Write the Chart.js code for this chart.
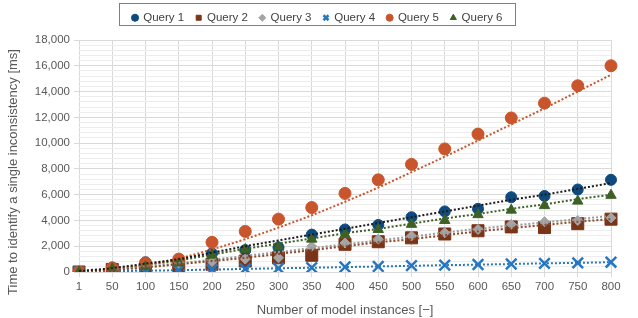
<!DOCTYPE html>
<html><head><meta charset="utf-8">
<script src="https://cdn.jsdelivr.net/npm/chart.js@4/dist/chart.umd.min.js"></script>
<style>html,body{margin:0;padding:0;background:#fff}</style>
</head><body>
<canvas id="c" width="638" height="318"></canvas>
<script>
const categories = ['1','50','100','150','200','250','300','350','400','450','500','550','600','650','700','750','800'];
const query1 = [0, 350, 750, 950, 1450, 1700, 1900, 2900, 3300, 3650, 4250, 4700, 4900, 5800, 5900, 6400, 7150];
const query2 = [0, 200, 250, 500, 600, 850, 1100, 1300, 2150, 2350, 2650, 2950, 3200, 3500, 3450, 3750, 4100];
const query3 = [0, 150, 300, 450, 800, 1000, 1100, 2000, 2250, 2550, 2800, 3050, 3300, 3700, 3900, 4000, 4200];
const query4 = [0, 40, 90, 140, 190, 240, 290, 340, 390, 430, 490, 530, 580, 620, 670, 710, 760];
const query5 = [0, 300, 700, 1000, 2300, 3150, 4100, 5000, 6100, 7150, 8350, 9550, 10700, 11950, 13100, 14450, 16000];
const query6 = [0, 250, 400, 700, 1300, 1750, 1950, 2550, 2900, 3300, 3700, 4000, 4450, 4800, 5150, 5500, 5950];
// dotted trend lines
const trend1 = [80, 300, 650, 1000, 1500, 2000, 2450, 2900, 3350, 3800, 4250, 4700, 5150, 5600, 6000, 6450, 6900];
const trend2 = [0, 150, 350, 600, 850, 1100, 1400, 1700, 2000, 2300, 2550, 2850, 3150, 3400, 3650, 3900, 4100];
const trend3 = [0, 180, 400, 680, 950, 1250, 1550, 1850, 2150, 2450, 2750, 3050, 3350, 3600, 3850, 4100, 4350];
const trend4 = [20, 60, 100, 140, 190, 240, 290, 330, 380, 430, 480, 530, 570, 620, 670, 710, 760];
const trend5 = [0, 200, 550, 1050, 1750, 2550, 3450, 4400, 5450, 6550, 7750, 8950, 10200, 11450, 12700, 14000, 15300];
const trend6 = [0, 250, 550, 900, 1350, 1800, 2200, 2600, 3000, 3350, 3750, 4150, 4500, 4900, 5250, 5650, 6000];
const seriesNames = ['Query 1','Query 2','Query 3','Query 4','Query 5','Query 6'];
const yTickValues = [0, 2000, 4000, 6000, 8000, 10000, 12000, 14000, 16000, 18000];
const xTitle = 'Number of model instances [−]';
const yTitle = 'Time to identify a single inconsistency [ms]';

const FONT = 'Liberation Sans, Arial, sans-serif';
const TXT = '#595959';

function marker(label, data, color, style, radius, order, bw) {
  return { label, data, showLine: false, pointStyle: style, pointRadius: radius, pointHoverRadius: radius,
    backgroundColor: color, borderColor: color, pointBorderWidth: bw, borderWidth: bw, order };
}
function trend(data, color) {
  return { label: '_trend', data, showLine: true, pointRadius: 0, borderColor: color, borderWidth: 2,
    borderDash: [2, 2], fill: false, cubicInterpolationMode: 'monotone', order: -1 };
}

function legendExtent(lg) {
  let l = Infinity, r = -Infinity;
  lg.legendHitBoxes.forEach(h => { l = Math.min(l, h.left); r = Math.max(r, h.left + h.width); });
  return [l, r];
}

const customLayout = {
  id: 'customLayout',
  beforeLayout(chart) {
    const lg = chart.legend;
    if (lg && !lg._wrapped) {
      const f = lg.fit;
      lg.fit = function () { f.call(this); this.height = 40; };
      lg._wrapped = true;
    }
  },
  afterUpdate(chart) {
    const lg = chart.legend;
    if (!lg || !lg.legendHitBoxes || !lg.legendHitBoxes.length) return;
    const [l, r] = legendExtent(lg);
    const centre = (l - 14 + r + 12) / 2;
    const shift = Math.round(316.5 - centre);
    lg.left += shift; lg.right += shift;
    lg.adjustHitBoxes();
  },
  afterDraw(chart) {
    const ctx = chart.ctx;
    const lg = chart.legend;
    if (lg && lg.legendHitBoxes && lg.legendHitBoxes.length) {
      const [l, r] = legendExtent(lg);
      ctx.save();
      ctx.strokeStyle = '#7f7f7f';
      ctx.lineWidth = 1;
      ctx.strokeRect(Math.round(l - 14) + 0.5, 3.5, Math.round(r - l + 26), 22);
      ctx.restore();
    }
    // y axis title, centred on the whole chart height as in the reference
    ctx.save();
    ctx.translate(13, 172);
    ctx.rotate(-Math.PI / 2);
    ctx.fillStyle = TXT;
    ctx.font = '13px ' + FONT;
    ctx.textAlign = 'center';
    ctx.textBaseline = 'middle';
    ctx.fillText(yTitle, 0, 0);
    ctx.restore();
  }
};

new Chart(document.getElementById('c'), {
  type: 'line',
  data: {
    labels: categories,
    datasets: [
      marker(seriesNames[0], query1, '#0E4A7E', 'circle', 5.5, 5, 1),
      marker(seriesNames[1], query2, '#7A3417', 'rect', 8.5, 4, 1),
      marker(seriesNames[2], query3, '#A5A5A5', 'rectRot', 5, 3, 1),
      marker(seriesNames[3], query4, '#2677C0', 'crossRot', 7.5, 2, 2.5),
      marker(seriesNames[4], query5, '#C8552B', 'circle', 6, 1, 1),
      marker(seriesNames[5], query6, '#3D6125', 'triangle', 6, 0, 1),
      trend(trend1, '#1a1a1a'),
      trend(trend2, '#8B4A2B'),
      trend(trend3, '#9a9a9a'),
      trend(trend4, '#2677C0'),
      trend(trend5, '#C8552B'),
      trend(trend6, '#3D6125')
    ]
  },
  options: {
    responsive: false,
    animation: false,
    devicePixelRatio: 1,
    layout: { padding: { left: 0, right: 27, top: 0, bottom: 0 } },
    plugins: {
      tooltip: { enabled: false },
      legend: {
        position: 'top',
        labels: {
          usePointStyle: true, boxWidth: 5, boxHeight: 5, padding: 12,
          color: '#404040', font: { family: FONT, size: 11.5 },
          filter: (item) => item.text !== '_trend',
          sort: (a, b) => a.datasetIndex - b.datasetIndex
        }
      }
    },
    scales: {
      x: {
        type: 'category',
        offset: false,
        grid: { color: '#D9D9D9', lineWidth: 1, tickLength: 5, tickColor: '#D9D9D9' },
        border: { display: false },
        ticks: { color: TXT, font: { family: FONT, size: 11.5 }, maxRotation: 0, autoSkip: false, padding: 3 },
        title: { display: true, text: xTitle, color: TXT, font: { family: FONT, size: 13 }, padding: { top: 3, bottom: 0 } },
        afterFit: s => { s.height = 46; }
      },
      y: {
        min: 0, max: 18000,
        grid: {
          color: c => (Math.round(c.tick.value) % 2000 === 0 ? '#D9D9D9' : '#EDEDED'),
          tickColor: c => (Math.round(c.tick.value) % 2000 === 0 ? '#D9D9D9' : 'rgba(0,0,0,0)'),
          tickLength: 5
        },
        border: { display: false },
        ticks: {
          stepSize: 400, autoSkip: false, color: TXT, font: { family: FONT, size: 11.5 }, padding: 4,
          callback: v => (yTickValues.includes(Math.round(v)) ? Math.round(v).toLocaleString('en-US') : '')
        },
        title: { display: false },
        afterFit: s => { s.width = 79; }
      }
    }
  },
  plugins: [customLayout]
});
</script>
</body></html>
